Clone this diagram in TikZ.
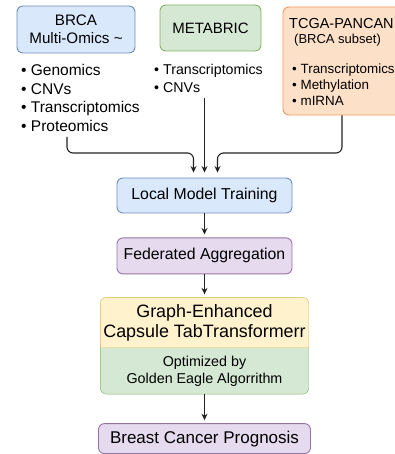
\documentclass[tikz,border=0pt]{standalone}
\usepackage{fontspec}
\setmainfont{Liberation Sans}
\usetikzlibrary{arrows.meta,positioning,backgrounds}

\definecolor{bluefill}{HTML}{DAE8FC}
\definecolor{blueline}{HTML}{6C8EBF}
\definecolor{greenfill}{HTML}{D5E8D4}
\definecolor{greenline}{HTML}{82B366}
\definecolor{orangefill}{HTML}{FDE0C8}
\definecolor{orangeline}{HTML}{F09A5E}
\definecolor{purplefill}{HTML}{E6DAEE}
\definecolor{purpleline}{HTML}{9673A6}
\definecolor{yellowfill}{HTML}{FFF2CC}
\definecolor{yellowline}{HTML}{D6B656}
\definecolor{arrowgray}{HTML}{222222}

\newcommand{\fs}[2]{\fontsize{#1}{#2}\selectfont}

\begin{document}
\begin{tikzpicture}[
  x=1pt, y=-1pt,
  node distance=24pt,
  box/.style={draw,rounded corners=6pt,line width=0.9pt,align=center,inner sep=2pt},
  bluebox/.style={box,fill=bluefill,draw=blueline},
  greenbox/.style={box,fill=greenfill,draw=greenline},
  purplebox/.style={box,fill=purplefill,draw=purpleline},
  half/.style={align=center,minimum width=208pt,inner sep=2pt},
  lst/.style={align=left,inner sep=0pt,anchor=west},
  arr/.style={-{Stealth[length=6.5pt,width=6pt]},line width=1.1pt,draw=arrowgray,shorten >=3pt}
]
\useasboundingbox (0,0) rectangle (395,454);
\clip (0,0) rectangle (395,454);

% Row 1: data sources
\node[bluebox,minimum width=118pt,minimum height=47pt,font=\fs{15.2}{18}] (brca) at (76,29.5) {BRCA\\Multi-Omics \textasciitilde};
\node[greenbox,minimum width=101pt,minimum height=46pt,font=\fs{15}{18}] (metabric) at (210.5,28) {METABRIC};
\node[box,fill=orangefill,draw=orangeline,minimum width=122pt,minimum height=108pt] (tcga) at (344,61) {};

\node[lst,font=\fs{15.5}{18.4}] (brcalist) at (21,98)
  {\textbullet\ Genomics\\\textbullet\ CNVs\\\textbullet\ Transcriptomics\\\textbullet\ Proteomics};
\node[lst,font=\fs{14.2}{18}] (metalist) at (154,78.5)
  {\textbullet\ Transcriptomics\\\textbullet\ CNVs};
\node[lst,font=\fs{14.5}{15}] (tcgatitle) at (289,32)
  {TCGA-PANCAN\\\hspace{5pt}{\fs{13}{15}(BRCA subset)}};
\node[lst,font=\fs{13.4}{16.2}] (tcgalist) at (292,84.5)
  {\textbullet\ Transcriptomics\\\textbullet\ Methylation\\\textbullet\ mIRNA};

% Row 2: training pipeline
\node[bluebox,minimum width=175pt,minimum height=35pt,font=\fs{15.8}{18}] (local) at (204.5,195.5) {Local Model Training};
\node[purplebox,minimum width=175pt,minimum height=36pt,font=\fs{15.8}{18},below=of local] (fed) {Federated Aggregation};
\node[half,minimum height=50pt,font=\fs{17.9}{20},below=23pt of fed] (ge)
  {Graph-Enhanced\\Capsule TabTransformerr};
\node[half,minimum height=46pt,font=\fs{14.3}{17},below=0pt of ge] (gea)
  {Optimized by\\Golden Eagle Algorrithm};
\node[purplebox,minimum width=212pt,minimum height=30pt,font=\fs{17}{18},below=29pt of gea] (prog) {Breast Cancer Prognosis};

% two-colour box behind ge / gea
\begin{scope}[on background layer,line width=0.9pt]
  \filldraw[fill=yellowfill,draw=yellowline] (ge.south west) [rounded corners=6pt] |- (ge.north east) [sharp corners] -- (ge.south east) -- cycle;
  \fill[greenfill] (gea.north west) [rounded corners=6pt] |- (gea.south east) [sharp corners] -- (gea.north east) -- cycle;
  \draw[greenline] (gea.north west) [rounded corners=6pt] |- (gea.south east) [sharp corners] -- (gea.north east);
\end{scope}

% connectors
\coordinate (brcaout) at (67,137);
\coordinate (metaout) at (204.5,98);
\draw[arr,shorten >=5pt,rounded corners=6pt] (brcaout) |- ([xshift=-11pt]local.north |- 0,153) -- ([xshift=-11pt]local.north);
\draw[arr,shorten >=5pt] (metaout) -- (local.north);
\draw[arr,shorten >=5pt,rounded corners=6pt] ([xshift=-2pt]tcga.south) |- ([xshift=13pt]local.north |- 0,153) -- ([xshift=13pt]local.north);
\draw[arr] (local) -- (fed);
\draw[arr] (fed) -- (ge);
\draw[arr] (gea) -- (prog);
\end{tikzpicture}
\end{document}
